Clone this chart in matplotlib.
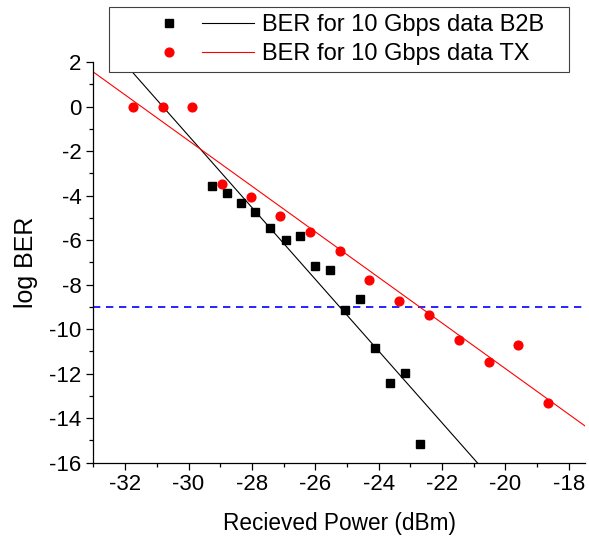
import numpy as np
import matplotlib
matplotlib.use('Agg')
import matplotlib.pyplot as plt
from matplotlib.lines import Line2D
from matplotlib.legend_handler import HandlerBase

plt.rcParams['font.family'] = ['Liberation Sans', 'DejaVu Sans']
plt.rcParams['axes.unicode_minus'] = False

# received power (dBm) and log BER
b2b_power = [-29.27, -28.80, -28.34, -27.89, -27.43, -26.91, -26.47, -26.00,
             -25.54, -25.06, -24.60, -24.11, -23.64, -23.18, -22.70]
b2b_ber = [-3.57, -3.90, -4.32, -4.76, -5.47, -6.00, -5.82, -7.15,
           -7.36, -9.13, -8.64, -10.85, -12.42, -11.98, -15.18]

tx_power = [-31.74, -30.80, -29.89, -28.96, -28.03, -27.11, -26.18, -25.22,
            -24.30, -23.35, -22.41, -21.47, -20.53, -19.59, -18.65]
tx_ber = [0.0, 0.0, 0.0, -3.49, -4.08, -4.90, -5.63, -6.47,
          -7.81, -8.76, -9.35, -10.51, -11.50, -10.70, -13.31]

fec_limit = -9

labels = ['BER for 10 Gbps data B2B', 'BER for 10 Gbps data TX']


class MarkerThenLine(HandlerBase):
    # origin style legend entry: symbol, gap, then a short line
    def create_artists(self, legend, orig_handle, xdescent, ydescent,
                       width, height, fontsize, trans):
        mk, ln = orig_handle
        y = height / 2 - ydescent
        m = Line2D([0.383 * width - xdescent], [y], linestyle='none',
                   marker=mk.get_marker(), markersize=mk.get_markersize(),
                   color=mk.get_color(), transform=trans)
        l = Line2D([0.623 * width - xdescent, width - xdescent], [y, y],
                   color=ln.get_color(), lw=ln.get_linewidth(), transform=trans)
        return [m, l]


fig = plt.figure(figsize=(5.89, 5.40), dpi=100)
ax = fig.add_axes([0.1587, 0.1435, 0.834, 0.7415])

ax.set_xlim(-33, -17.5)
ax.set_ylim(-16, 2)

xr = np.array(ax.get_xlim())
k1 = np.polyfit(b2b_power, b2b_ber, 1)
k2 = np.polyfit(tx_power, tx_ber, 1)
fit1, = ax.plot(xr, np.polyval(k1, xr), color='black', lw=0.8, zorder=2)
fit2, = ax.plot(xr, np.polyval(k2, xr), color='red', lw=0.8, zorder=2)

ax.axhline(fec_limit, color='blue', lw=1.2, linestyle=(0, (4.4, 3.4)), zorder=1)

pts1, = ax.plot(b2b_power, b2b_ber, 's', color='black', markersize=5.6,
                linestyle='none', zorder=3)
pts2, = ax.plot(tx_power, tx_ber, 'o', color='red', markersize=6.3,
                linestyle='none', zorder=3)

ax.spines['top'].set_visible(False)
ax.spines['right'].set_visible(False)
for s in ['left', 'bottom']:
    ax.spines[s].set_linewidth(0.9)

ax.set_xticks(np.arange(-32, -17, 2))
ax.set_xticks(np.arange(-33, -17, 1), minor=True)
ax.set_yticks(np.arange(-16, 3, 2))
ax.set_yticks(np.arange(-16, 3, 1), minor=True)
ax.tick_params(which='major', direction='out', length=5, width=0.9, labelsize=16)
ax.tick_params(which='minor', direction='out', length=3, width=0.9)

ax.set_xlabel('Recieved Power (dBm)', fontsize=16.3, labelpad=12)
ax.set_ylabel('log BER', fontsize=18, labelpad=8)

leg = fig.legend([(pts1, fit1), (pts2, fit2)], labels,
                 handler_map={tuple: MarkerThenLine()},
                 loc='upper left', mode='expand',
                 bbox_to_anchor=(109.3 / 589, 1 - 72.7 / 540, 460 / 589, 66 / 540),
                 bbox_transform=fig.transFigure, borderaxespad=0,
                 fontsize=17, handlelength=5.82, handletextpad=0.35,
                 borderpad=0.3, labelspacing=0.32, fancybox=False,
                 framealpha=1, edgecolor='#404040')
leg.get_frame().set_linewidth(0.8)

fig.savefig('out.png', dpi=100)
